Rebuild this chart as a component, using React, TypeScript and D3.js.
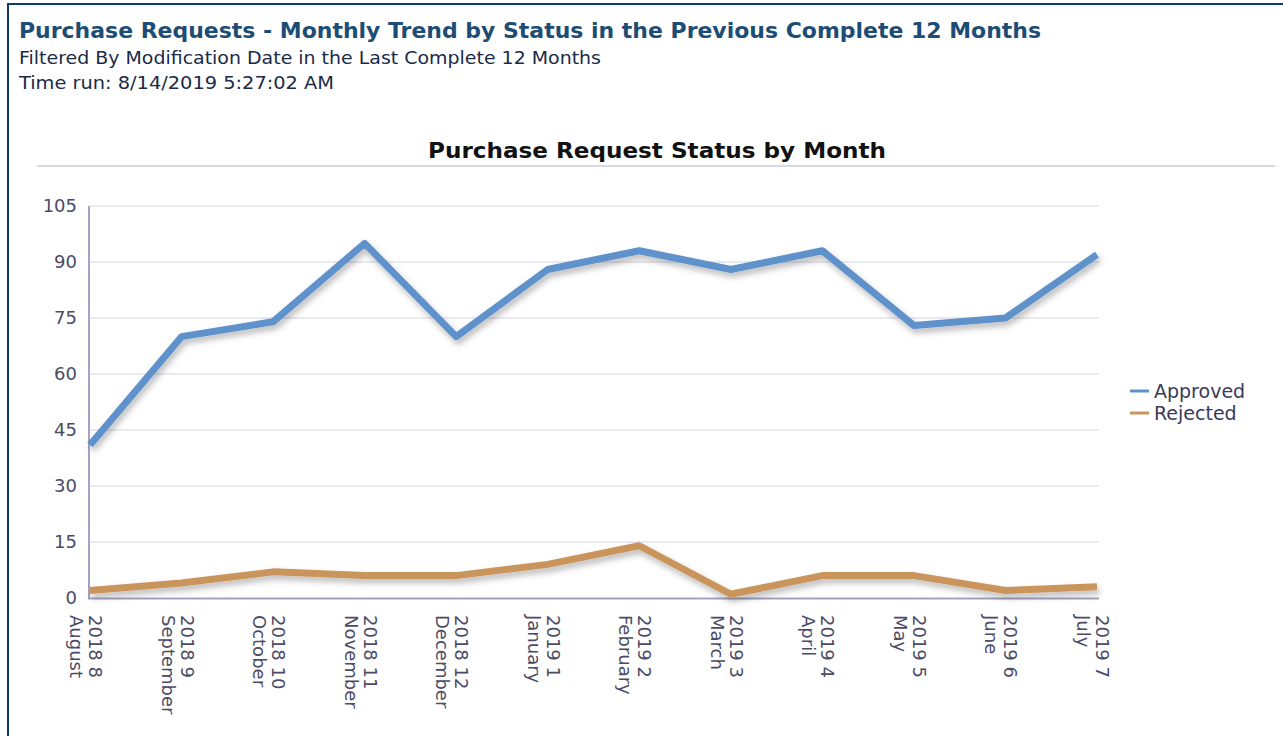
import React from "react";
import * as d3 from "d3";

const months = ["August", "September", "October", "November", "December", "January", "February", "March", "April", "May", "June", "July"];
const monthCodes = ["2018 8", "2018 9", "2018 10", "2018 11", "2018 12", "2019 1", "2019 2", "2019 3", "2019 4", "2019 5", "2019 6", "2019 7"];
const approved = [41, 70, 74, 95, 70, 88, 93, 88, 93, 73, 75, 92];
const rejected = [2, 4, 7, 6, 6, 9, 14, 1, 6, 6, 2, 3];
const yTicks = [0, 15, 30, 45, 60, 75, 90, 105];
const seriesNames = ["Approved", "Rejected"];
const seriesColors = ["#5e91cb", "#c9955c"];

export default function App() {
  const W = 1283, H = 736;
  const x = d3.scalePoint<string>().domain(monthCodes).range([90, 1097]);
  const y = d3.scaleLinear().domain([0, 105]).range([598, 206]);
  const line = d3.line<number>().x((_, i) => x(monthCodes[i]) as number).y(d => y(d));
  const series = [approved, rejected];
  const font = "'DejaVu Sans', Verdana, sans-serif";
  const tickColor = "#4b4b66";
  return (
    <svg width={W} height={H} style={{ position: "absolute", left: 0, top: 0, background: "#fff" }} fontFamily={font}>
      <defs>
        <filter id="sh" x="-10%" y="-10%" width="120%" height="140%">
          <feDropShadow dx="2" dy="4" stdDeviation="3" floodColor="#000" floodOpacity="0.28" />
        </filter>
      </defs>
      {/* frame */}
      <line x1={8} y1={4} x2={W} y2={4} stroke="#0d3b6e" strokeWidth={2} />
      <line x1={8} y1={3} x2={8} y2={H} stroke="#0d3b6e" strokeWidth={2} />
      {/* header */}
      <text x={19} y={38} fontSize={21} fontWeight="bold" fill="#1d4d74" textLength={1022} lengthAdjust="spacingAndGlyphs">Purchase Requests - Monthly Trend by Status in the Previous Complete 12 Months</text>
      <text x={19} y={64} fontSize={17} fill="#1a2a48" textLength={582} lengthAdjust="spacingAndGlyphs">Filtered By Modification Date in the Last Complete 12 Months</text>
      <text x={19} y={89} fontSize={17} fill="#1a2a48" textLength={315} lengthAdjust="spacingAndGlyphs">Time run: 8/14/2019 5:27:02 AM</text>
      {/* chart title */}
      <text x={657} y={158} fontSize={21} fontWeight="bold" fill="#111" textAnchor="middle" textLength={458} lengthAdjust="spacingAndGlyphs">Purchase Request Status by Month</text>
      <line x1={37} y1={166} x2={1275} y2={166} stroke="#d8d8e2" strokeWidth={2} />
      {/* gridlines */}
      {yTicks.filter(t => t > 0).map(t => (
        <line key={t} x1={89} x2={1099} y1={y(t)} y2={y(t)} stroke="#e3e3ec" strokeWidth={1.5} />
      ))}
      {/* axes */}
      <line x1={89} x2={89} y1={206} y2={599} stroke="#a3a3bf" strokeWidth={2} />
      <line x1={88} x2={1099} y1={598.5} y2={598.5} stroke="#a3a3bf" strokeWidth={2} />
      {yTicks.map(t => (
        <text key={t} x={77} y={y(t)} dy="0.36em" fontSize={18} fill={tickColor} textAnchor="end">{t}</text>
      ))}
      {monthCodes.map((c, i) => {
        const cx = x(c) as number;
        return (
          <g key={c} transform={`translate(${cx},615) rotate(90)`}>
            <text x={0} y={1} fontSize={18} fill={tickColor}>{c}</text>
            <text x={0} y={20} fontSize={18} fill={tickColor}>{months[i]}</text>
          </g>
        );
      })}
      {/* lines */}
      {series.map((s, k) => (
        <path key={k} d={line(s) || ""} fill="none" stroke={seriesColors[k]} strokeWidth={7} strokeLinejoin="round" filter="url(#sh)" />
      ))}
      {/* legend */}
      {seriesNames.map((n, k) => (
        <g key={n}>
          <line x1={1130} x2={1149} y1={391 + k * 22} y2={391 + k * 22} stroke={seriesColors[k]} strokeWidth={3} />
          <text x={1154} y={391 + k * 22} dy="0.36em" fontSize={19} fill="#3a3a5a">{n}</text>
        </g>
      ))}
    </svg>
  );
}
